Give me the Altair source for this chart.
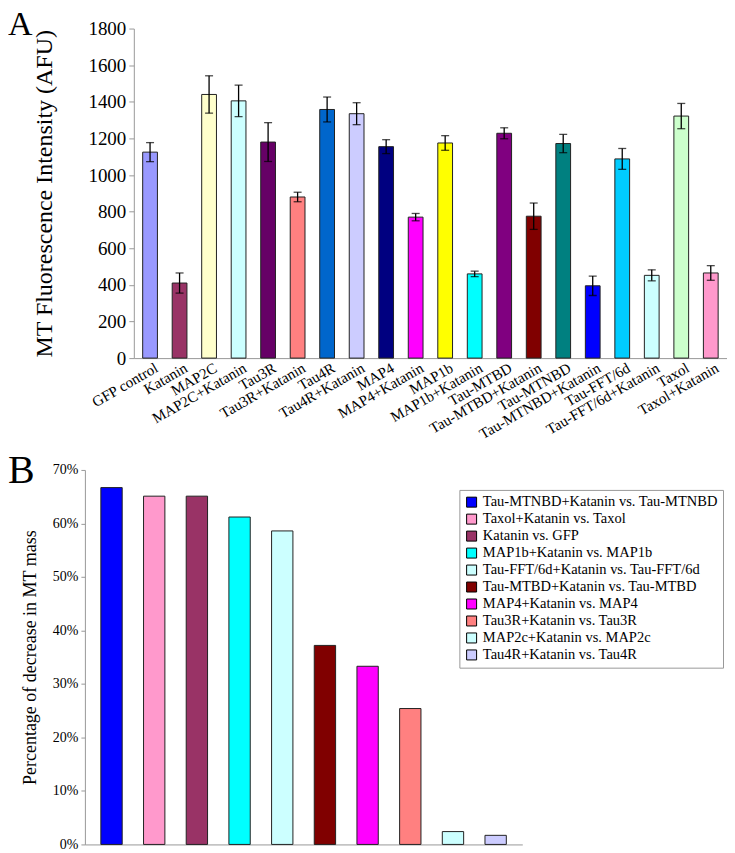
import altair as alt
import pandas as pd

F = "Liberation Serif"

categories = ["GFP control", "Katanin", "MAP2C", "MAP2C+Katanin", "Tau3R", "Tau3R+Katanin",
              "Tau4R", "Tau4R+Katanin", "MAP4", "MAP4+Katanin", "MAP1b", "MAP1b+Katanin",
              "Tau-MTBD", "Tau-MTBD+Katanin", "Tau-MTNBD", "Tau-MTNBD+Katanin",
              "Tau-FFT/6d", "Tau-FFT/6d+Katanin", "Taxol", "Taxol+Katanin"]
intensity = [1125, 410, 1440, 1405, 1180, 880, 1358, 1335, 1155, 770,
             1175, 460, 1228, 775, 1172, 395, 1088, 452, 1322, 465]
errors = [52, 55, 102, 86, 106, 26, 68, 60, 38, 20,
          40, 15, 30, 72, 50, 53, 57, 30, 69, 40]
bar_colors = ["#9999FF", "#993366", "#FFFFCC", "#CCFFFF", "#660066", "#FF8080",
              "#0066CC", "#CCCCFF", "#000080", "#FF00FF", "#FFFF00", "#00FFFF",
              "#800080", "#800000", "#008080", "#0000FF", "#00CCFF", "#CCFFFF",
              "#CCFFCC", "#FF99CC"]

comparisons = ["Tau-MTNBD+Katanin vs. Tau-MTNBD", "Taxol+Katanin vs. Taxol", "Katanin vs. GFP",
               "MAP1b+Katanin vs. MAP1b", "Tau-FFT/6d+Katanin vs. Tau-FFT/6d",
               "Tau-MTBD+Katanin vs. Tau-MTBD", "MAP4+Katanin vs. MAP4",
               "Tau3R+Katanin vs. Tau3R", "MAP2c+Katanin vs. MAP2c", "Tau4R+Katanin vs. Tau4R"]
decrease = [0.667, 0.651, 0.651, 0.612, 0.586, 0.372, 0.333, 0.254, 0.024, 0.017]
comp_colors = ["#0000FF", "#FF99CC", "#993366", "#00FFFF", "#CCFFFF",
               "#800000", "#FF00FF", "#FF8080", "#CCFFFF", "#CCCCFF"]

df = pd.DataFrame({"cond": categories, "val": intensity, "err": errors})
df["lo"] = df["val"] - df["err"]
df["hi"] = df["val"] + df["err"]

df2 = pd.DataFrame({"comp": comparisons, "pct": decrease})

xs = alt.Scale(range=[49, 643], paddingInner=0.5, paddingOuter=0.3)
ys = alt.Scale(domain=[0, 1800])
x_axis = alt.Axis(labelAngle=330, labelAlign="right", labelBaseline="top",
                  labelFontSize=15, ticks=False, domainColor="#999999",
                  labelPadding=2, labelOverlap=False, title=None, labelLimit=300,
                  labelColor="black", labelOffset=3)
y_axis = alt.Axis(values=list(range(0, 1801, 200)), format="d", offset=-49,
                  tickSize=5, tickColor="#999999", domainColor="#999999",
                  labelFontSize=19, labelPadding=3,
                  title="MT Fluorescence Intensity (AFU)",
                  titleFontSize=24, titleFontWeight="normal", titlePadding=31,
                  grid=False, labelColor="black", titleColor="black")

xe = alt.X("cond:N", sort=categories, scale=xs, axis=x_axis)

bars = alt.Chart(df).mark_bar(stroke="#222222", strokeWidth=1).encode(
    x=xe, y=alt.Y("val:Q", scale=ys, axis=y_axis),
    color=alt.Color("cond:N", scale=alt.Scale(domain=categories, range=bar_colors), legend=None),
)
err_rule = alt.Chart(df).mark_rule(color="black", strokeWidth=1.3).encode(
    x=xe, y=alt.Y("lo:Q", scale=ys, axis=y_axis), y2="hi:Q")
err_lo = alt.Chart(df).mark_tick(color="black", size=8, thickness=1.3).encode(
    x=xe, y=alt.Y("lo:Q", scale=ys, axis=y_axis))
err_hi = alt.Chart(df).mark_tick(color="black", size=8, thickness=1.3).encode(
    x=xe, y=alt.Y("hi:Q", scale=ys, axis=y_axis))

top = alt.layer(bars, err_rule, err_lo, err_hi).properties(
    width=643, height=330,
    title=alt.TitleParams(text="A", anchor="start", frame="group", fontSize=34, font=F,
                          fontWeight="normal", dx=-77, dy=49, offset=0,
                          baseline="alphabetic", color="black"),
)

bottom = alt.Chart(df2).mark_bar(stroke="#222222", strokeWidth=1).encode(
    x=alt.X("comp:N", sort=comparisons,
            scale=alt.Scale(paddingInner=0.5, paddingOuter=0.374),
            axis=alt.Axis(labels=False, ticks=False, title=None, domainColor="#999999")),
    y=alt.Y("pct:Q", scale=alt.Scale(domain=[0, 0.7]),
            axis=alt.Axis(format=".0%", values=[0, 0.1, 0.2, 0.3, 0.4, 0.5, 0.6, 0.7],
                          tickSize=4, tickColor="#999999", domainColor="#999999",
                          labelFontSize=14, labelPadding=3, grid=False,
                          title="Percentage of decrease in MT mass", titleFontSize=18,
                          titleFontWeight="normal", titlePadding=13,
                          labelColor="black", titleColor="black")),
    color=alt.Color("comp:N", scale=alt.Scale(domain=comparisons, range=comp_colors),
                    legend=alt.Legend(orient="none", legendX=375, legendY=20, title=None,
                                      symbolType="square", symbolSize=100,
                                      symbolStrokeColor="black", symbolStrokeWidth=1,
                                      labelFont=F, labelFontSize=14.5, labelColor="black",
                                      strokeColor="#999999", fillColor="white",
                                      padding=5, rowPadding=1.0, labelLimit=400,
                                      labelOffset=4)),
).properties(
    width=438, height=375,
    title=alt.TitleParams(text="B", anchor="start", frame="group", fontSize=40, font=F,
                          fontWeight="normal", dx=-77, dy=60, offset=0,
                          baseline="alphabetic", color="black"),
)

chart = alt.vconcat(top, bottom, spacing=9).resolve_scale(
    color="independent"
).properties(
    padding={"left": 0, "top": -1, "right": 0, "bottom": 0}
).configure_view(stroke=None).configure_axis(
    labelFont=F, titleFont=F
).configure_title(font=F)

chart.save("out.html", embed_options={"renderer": "svg", "actions": False})
